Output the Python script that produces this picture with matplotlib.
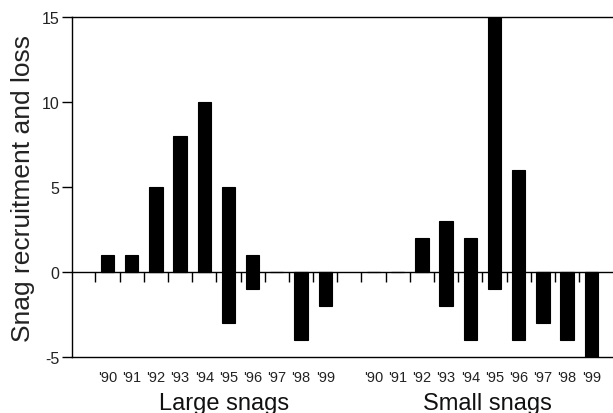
import matplotlib
matplotlib.use("Agg")
import matplotlib.pyplot as plt
import matplotlib.transforms as mtransforms
import numpy as np

plt.rcParams['font.family'] = ['Liberation Sans', 'DejaVu Sans']

years = ["'90", "'91", "'92", "'93", "'94", "'95", "'96", "'97", "'98", "'99"]
groups = ["Large snags", "Small snags"]
large_recruit = [1, 1, 5, 8, 10, 5, 1, 0, 0, 0]
large_loss = [0, 0, 0, 0, 0, -3, -1, 0, -4, -2]
small_recruit = [0, 0, 2, 3, 2, 15, 6, 0, 0, 0]
small_loss = [0, 0, 0, -2, -4, -1, -4, -3, -4, -5]

n = len(years)
x_large = np.arange(n)
x_small = np.arange(n) + n + 1
x_all = np.concatenate([x_large, x_small])

fig = plt.figure(figsize=(6.13, 4.14), dpi=100)
ax = fig.add_axes([0.117, 0.135, 0.883, 0.8215])

bw = 0.55
for xs, rec, loss in [(x_large, large_recruit, large_loss), (x_small, small_recruit, small_loss)]:
    ax.bar(xs, rec, width=bw, color='black', edgecolor='black', linewidth=0.8, zorder=3)
    ax.bar(xs, loss, width=bw, color='black', edgecolor='black', linewidth=0.8, zorder=3)

ax.set_ylim(-5, 15)
ax.set_xlim(-1.48, 20.9)
ax.set_yticks([-5, 0, 5, 10, 15])
ax.set_yticklabels(['-5', '0', '5', '10', '15'], fontsize=11.5, color='#222222')
ax.tick_params(axis='y', direction='out', length=7, width=1.0, pad=2)

ax.set_xticks(x_all)
ax.set_xticklabels(years + years, fontsize=10.5, color='#222222')
ax.tick_params(axis='x', length=0, pad=9.5)

for s in ['top', 'left', 'bottom']:
    ax.spines[s].set_linewidth(1.0)
ax.spines['right'].set_visible(False)

# zero line with boundary ticks
sec = ax.secondary_xaxis(0.25)
bounds = np.arange(-0.5, x_all[-1] + 0.5, 1.0)
sec.set_xticks(bounds)
sec.set_xticklabels([])
sec.tick_params(direction='out', length=7, width=1.0)
sec.spines['bottom'].set_linewidth(1.0)

ax.set_ylabel('Snag recruitment and loss', fontsize=19, color='#222222', labelpad=5)

trans = mtransforms.blended_transform_factory(ax.transData, ax.transAxes)
ax.text(x_large.mean() + 0.3, -0.135, groups[0], transform=trans, ha='center', va='center', fontsize=17, color='#111111')
ax.text(x_small.mean() + 0.2, -0.135, groups[1], transform=trans, ha='center', va='center', fontsize=17, color='#111111')

fig.savefig('out.png', dpi=100)
